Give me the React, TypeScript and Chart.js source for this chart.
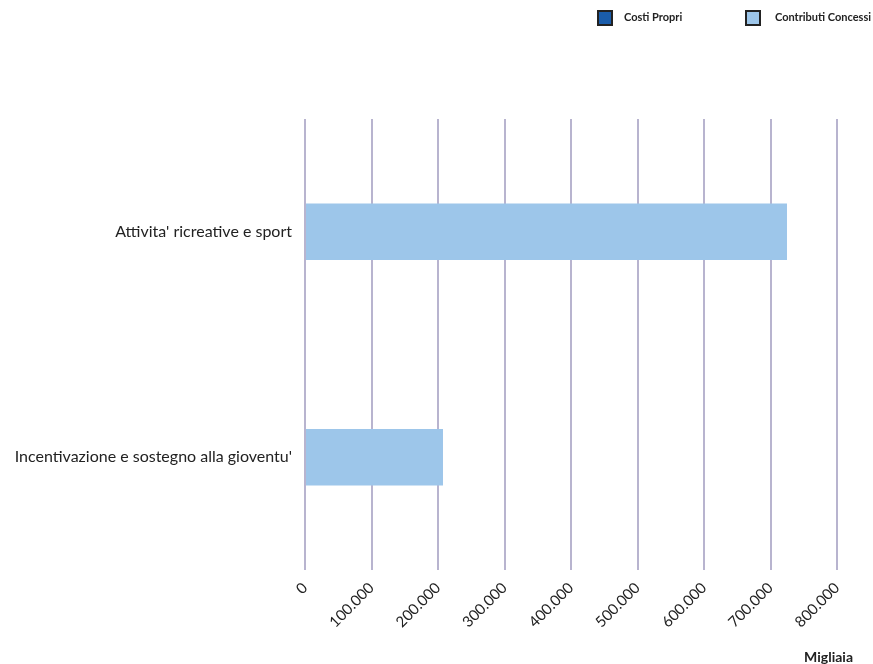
import React, { useEffect, useRef } from "react";
import { Chart, registerables } from "chart.js";

Chart.register(...registerables);

const categories = ["Attivita' ricreative e sport", "Incentivazione e sostegno alla gioventu'"];
const costiPropri: (number | null)[] = [null, null];
const contributiConcessi = [724800, 207500];
const xTicksMax = 800000;
const xTicksStep = 100000;
const axisTitle = "Migliaia";
const legendItems = [
  { label: "Costi Propri", color: "#1A5DAB" },
  { label: "Contributi Concessi", color: "#9DC6EA" },
];

const FONT = "Lato, 'Open Sans', sans-serif";

function fmt(v: number) {
  return String(Math.round(v)).replace(/\B(?=(\d{3})+(?!\d))/g, ".");
}

export default function App() {
  const ref = useRef<HTMLCanvasElement>(null);
  useEffect(() => {
    if (!ref.current) return;
    const chart = new Chart(ref.current, {
      type: "bar",
      data: {
        labels: categories,
        datasets: [
          { label: legendItems[0].label, data: costiPropri, backgroundColor: legendItems[0].color },
          { label: legendItems[1].label, data: contributiConcessi, backgroundColor: legendItems[1].color },
        ],
      },
      options: {
        indexAxis: "y",
        animation: false,
        responsive: false,
        maintainAspectRatio: false,
        skipNull: true,
        barPercentage: 0.5,
        categoryPercentage: 0.5,
        layout: { padding: { top: 119, right: 36, left: 0, bottom: 0 } },
        plugins: { legend: { display: false }, tooltip: { enabled: false } },
        scales: {
          x: {
            min: 0,
            max: xTicksMax,
            border: { display: false },
            grid: { color: "#B8B4CF", lineWidth: 2, drawTicks: false },
            ticks: {
              stepSize: xTicksStep,
              minRotation: 45,
              maxRotation: 45,
              padding: 9,
              color: "#222",
              font: { family: FONT, size: 15 },
              callback: (v: any) => fmt(Number(v)),
            },
            afterFit: (s: any) => {
              s.height = 94;
            },
          },
          y: {
            border: { display: false },
            grid: { display: false, drawTicks: false },
            ticks: {
              padding: 13,
              color: "#222",
              font: { family: FONT, size: 16 },
            },
            afterFit: (s: any) => {
              s.width = 305;
            },
          },
        },
      } as any,
    });
    return () => chart.destroy();
  }, []);

  const legendPos = [
    { box: 597, text: 624 },
    { box: 745, text: 775 },
  ];

  return (
    <div style={{ position: "absolute", left: 0, top: 0, width: 873, height: 664, background: "#fff" }}>
      <canvas ref={ref} width={873} height={664} style={{ position: "absolute", left: 0, top: 0 }} />
      {legendItems.map((it, i) => (
        <React.Fragment key={it.label}>
          <span
            style={{
              position: "absolute",
              left: legendPos[i].box,
              top: 10,
              width: 12,
              height: 12,
              background: it.color,
              border: "2px solid #222",
            }}
          />
          <span
            style={{
              position: "absolute",
              left: legendPos[i].text,
              top: 9,
              fontFamily: FONT,
              fontSize: 11,
              lineHeight: "16px",
              fontWeight: "bold",
              color: "#222",
              whiteSpace: "nowrap",
            }}
          >
            {it.label}
          </span>
        </React.Fragment>
      ))}
      <span
        style={{
          position: "absolute",
          right: 20,
          top: 648,
          fontFamily: FONT,
          fontSize: 14,
          lineHeight: "18px",
          fontWeight: "bold",
          color: "#222",
          whiteSpace: "nowrap",
        }}
      >
        {axisTitle}
      </span>
    </div>
  );
}
